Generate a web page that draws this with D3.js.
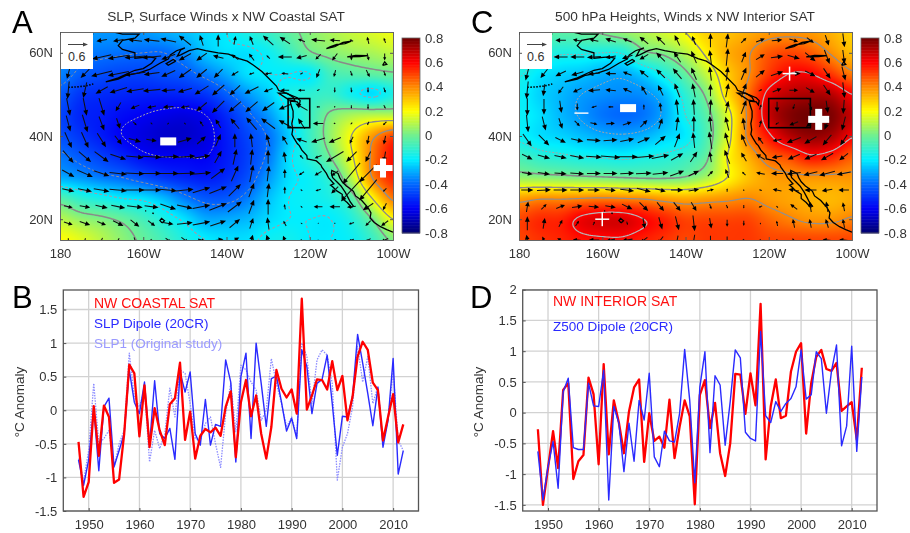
<!DOCTYPE html>
<html><head><meta charset="utf-8">
<script src="https://cdn.jsdelivr.net/npm/d3@7"></script>
<style>
html,body{margin:0;padding:0;background:#fff}
svg{display:block;filter:blur(.35px)}
text{font-family:"Liberation Sans",Arial,sans-serif;fill:#333}
</style></head><body>
<svg id="c" width="910" height="533"></svg>
<script>
const years = d3.range(1948, 2013);
const coastalSAT = [-.47,-1.29,-1.07,.06,-.68,.07,-.1,-1.08,-1.03,-.35,.68,.55,-.39,.37,-.55,.03,-.3,-.52,.09,.18,.71,-.44,-.02,-.72,-.38,-.28,-.33,-.26,-.38,.05,.28,-.7,.12,.45,-.09,.22,-.35,-.72,-.25,.6,.32,.19,.31,-.05,1.66,.01,.22,.46,.45,.31,.73,.3,.51,-.15,.2,.8,1.02,.9,.41,.3,-.45,-.1,.24,-.48,-.21];
const slpDipole = [-.74,-1.12,-.74,.03,-.9,.05,.18,-.84,-.6,-.35,.6,.12,-.05,.42,-.52,.44,-.35,-.42,-.27,-.73,.57,.27,.57,-.35,-.52,.16,-.52,-.21,-.24,.75,.42,-.77,.5,.85,-.42,1,.4,-.24,.47,.51,.12,-.31,-.12,-.42,.9,.65,-.05,.4,.46,.82,.1,-.67,-.09,-.1,.2,1.13,.7,.25,-.23,.34,-.55,-.15,.77,-.95,-.6];
const slp1 = [-.72,-1.05,-.6,.4,-.5,-.42,-.3,-.85,-.5,-.3,.85,.2,.05,.3,-.77,-.3,-.57,-.35,.33,-.1,.6,.55,.1,-.42,-.45,-.2,-.1,-.5,-.85,-.05,.4,-.32,.67,.6,.42,.3,-.15,0,.77,.4,.1,-.25,-.1,-.4,1,.8,.1,.75,.9,.82,.4,-1.04,-.55,-.35,.05,.95,.42,.8,.1,.35,-.47,-.15,.6,-.45,-.6];
const interiorSAT = [-.27,-1.5,-.9,-.3,-.9,.37,.48,-1.08,-.79,-.69,.57,.3,-.84,.79,-.68,.2,-.16,-.66,.02,.41,.54,-.8,-.01,-.46,-.39,-.57,.21,-.74,-.23,.2,-.06,-1.49,.29,.53,-.25,.16,-.66,-1.03,-.5,.63,.62,-.02,.64,.12,1.77,-.76,.1,.54,-.09,-.05,.67,.99,1.13,-.34,.48,.91,1.02,.71,.68,.81,.03,.1,.17,-.44,.73];
const z500Dipole = [-.63,-1.42,-.88,-.47,-1.23,.34,.56,-.57,-.6,-.6,.48,.11,.1,.69,-1.42,.1,-.17,-.96,-.17,-.79,.2,-.12,.64,-.72,-.88,-.3,-.46,-.48,-.01,1.03,.2,-1.14,.42,.99,-.65,.6,.45,-.53,.18,1.02,.89,-.32,-.42,-.46,1.32,-.05,-.16,.18,.02,.15,.23,.42,1.02,.22,.29,.99,.88,-.01,.67,1.1,-.54,-.22,1.08,-.63,.58];

const fieldLons = d3.range(180, 95, -5);
const fieldLats = d3.range(65, 10, -5);
const fieldA = [
[-.33,-.33,-.33,-.33,-.33,-.3,-.27,-.23,-.2,-.15,-.1,-.03,.03,.08,.12,.15,.18],
[-.35,-.37,-.38,-.39,-.4,-.4,-.35,-.26,-.22,-.22,-.18,-.1,-.01,.03,.06,.08,.11],
[-.36,-.42,-.45,-.47,-.47,-.45,-.43,-.37,-.3,-.22,-.2,-.2,-.2,-.08,-.05,-.03,-.01],
[-.43,-.5,-.52,-.53,-.54,-.54,-.53,-.5,-.42,-.33,-.25,-.16,-.12,-.1,-.17,-.22,-.15],
[-.47,-.53,-.55,-.58,-.6,-.62,-.63,-.6,-.52,-.42,-.33,-.2,-.1,.02,.08,.1,.1],
[-.45,-.5,-.55,-.6,-.63,-.66,-.66,-.63,-.55,-.47,-.39,-.25,-.1,.05,.2,.37,.5],
[-.38,-.43,-.48,-.53,-.58,-.6,-.6,-.6,-.55,-.48,-.38,-.22,-.12,0,.18,.42,.58],
[-.3,-.33,-.37,-.4,-.45,-.5,-.53,-.55,-.52,-.45,-.33,-.22,-.18,-.1,.1,.4,.55],
[-.05,-.12,-.16,-.2,-.22,-.28,-.37,-.43,-.43,-.37,-.27,-.2,-.18,-.15,-.05,.2,.42],
[.1,.05,.02,-.02,-.08,-.15,-.22,-.3,-.3,-.28,-.23,-.2,-.2,-.2,-.14,0,.2],
[.2,.16,.1,.04,-.02,-.08,-.15,-.2,-.22,-.22,-.18,-.17,-.2,-.2,-.18,-.1,.02]];
const fieldC = [
[-.04,-.04,-.04,-.02,.01,.05,.09,.14,.2,.28,.3,.34,.37,.38,.37,.33,.28],
[-.08,-.12,-.15,-.15,-.16,-.15,-.02,.02,.1,.22,.33,.39,.47,.5,.47,.39,.31],
[-.15,-.21,-.24,-.26,-.29,-.3,-.24,-.14,-.02,.12,.28,.39,.52,.6,.6,.52,.42],
[-.18,-.24,-.28,-.32,-.34,-.35,-.34,-.27,-.12,.02,.25,.43,.63,.7,.72,.7,.6],
[-.18,-.22,-.28,-.33,-.38,-.4,-.38,-.3,-.16,-.04,.15,.42,.67,.77,.8,.78,.68],
[-.18,-.22,-.24,-.27,-.3,-.31,-.29,-.24,-.2,-.06,.15,.42,.58,.7,.75,.72,.61],
[-.08,-.12,-.14,-.16,-.17,-.18,-.16,-.14,-.1,-.02,.2,.33,.45,.5,.58,.55,.47],
[.05,.04,.03,.02,.01,0,-.01,-.01,.01,.08,.2,.3,.36,.38,.38,.38,.38],
[.36,.39,.39,.4,.41,.4,.39,.36,.34,.36,.38,.4,.37,.35,.33,.32,.34],
[.5,.54,.55,.62,.65,.65,.6,.55,.5,.5,.5,.5,.45,.41,.38,.38,.41],
[.5,.53,.55,.58,.59,.59,.56,.53,.5,.52,.52,.52,.5,.5,.5,.5,.5]];

const windLons = d3.range(178, 100, -4);
const windLats = d3.range(63, 11, -4);
const windA = [
[[-30,0],[-30,0],[-30,-5],[-30,-5],[-40,5],[-45,5],[-45,10],[-35,28],[-10,30],[0,35],[5,25],[-10,25],[-30,28],[-30,20],[-20,8],[-40,4],[-30,2],[-10,5],[-5,20],[-5,15]],
[[-40,-5],[-40,-5],[-55,-12],[-60,-10],[-60,-5],[-55,-5],[-40,-15],[-35,-20],[-30,-22],[-30,8],[-20,15],[-15,20],[-10,10],[-40,0],[-30,-8],[-15,-15],[-15,-20],[0,-20],[5,-20],[0,-20]],
[[-8,-30],[-25,-25],[-60,-15],[-60,-12],[-60,-8],[-45,-6],[-40,-18],[-35,-25],[-30,-25],[-25,-25],[-20,-12],[-15,-5],[-20,-3],[-20,2],[-8,-5],[-10,-25],[-5,-20],[5,-15],[10,-20],[5,-15]],
[[-5,-50],[-10,-45],[-35,-20],[-50,-15],[-50,-8],[-50,-5],[-40,-3],[-40,-12],[-40,-25],[-35,-30],[-30,-28],[-40,-20],[-25,-10],[-25,0],[-20,0],[-8,-5],[0,-15],[2,-15],[0,-15],[5,-15]],
[[10,-50],[10,-50],[15,-50],[-15,-25],[-25,-10],[-25,-5],[-30,-2],[-25,-5],[-30,-25],[-35,-35],[-35,-30],[-35,-30],[-35,-25],[-35,-15],[-35,20],[-10,0],[0,-5],[0,-10],[0,-15],[5,-10]],
[[12,-45],[15,-50],[15,-40],[10,-30],[10,-10],[5,-5],[5,5],[-5,5],[-10,15],[-15,25],[-25,30],[-30,35],[-40,30],[-35,20],[-20,30],[-30,0],[5,-3],[-5,-5],[-5,-10],[-10,-10]],
[[20,-45],[20,-45],[25,-40],[20,-25],[35,-10],[30,-5],[40,2],[40,12],[25,22],[15,35],[0,40],[-5,40],[-10,35],[-15,25],[-30,10],[-40,-12],[-35,-15],[-10,-20],[-5,-25],[-5,-25]],
[[30,-35],[35,-30],[40,-30],[45,-15],[50,-5],[55,-3],[60,2],[60,4],[50,8],[20,35],[10,45],[5,45],[0,40],[-5,30],[-10,10],[-20,-8],[-50,-30],[-30,-30],[-15,-30],[-5,-30]],
[[35,-20],[45,-20],[45,-15],[50,-5],[55,-2],[55,0],[60,0],[60,2],[55,5],[40,30],[20,45],[10,50],[5,45],[0,25],[-15,-10],[-20,-12],[-20,-15],[-50,-60],[-50,-50],[-5,-20]],
[[35,-8],[40,-8],[45,-8],[50,-5],[55,0],[55,0],[50,-5],[50,5],[50,15],[50,20],[35,35],[15,40],[5,40],[0,20],[-5,5],[-15,-5],[-20,-20],[-60,-65],[-50,-60],[-10,-10]],
[[25,-5],[30,-5],[35,-8],[40,-8],[45,-5],[40,-5],[45,-15],[45,-10],[50,10],[50,20],[40,30],[15,40],[0,45],[-3,15],[-5,5],[-25,0],[-30,0],[-25,-3],[-30,-20],[-10,-20]],
[[25,-8],[30,-10],[25,-10],[30,-15],[25,-20],[20,-15],[30,-5],[45,5],[50,10],[45,15],[30,25],[10,30],[-5,35],[-8,15],[-5,3],[-3,0],[-3,-3],[-15,-5],[-15,-15],[-20,-15]],
[[0,-10],[-3,-10],[-5,-12],[-5,-10],[5,-15],[5,-5],[15,-10],[20,-15],[20,-5],[30,5],[25,15],[8,30],[-10,30],[-10,25],[-5,5],[0,3],[-8,-3],[-15,-5],[-15,-8],[-20,-8]]];
const windC = [
[[-30,0],[-30,0],[-30,0],[-25,5],[-25,5],[-30,10],[-25,10],[-25,20],[-25,25],[-15,30],[-10,25],[0,40],[5,40],[15,15],[25,10],[30,3],[25,-8],[20,-15],[10,-30],[5,-40]],
[[-30,-10],[-35,-5],[-40,0],[-40,0],[-40,-3],[-30,-5],[-30,-10],[-25,-15],[-25,25],[-20,30],[-15,35],[-5,40],[5,50],[12,30],[25,15],[35,5],[35,-10],[30,-25],[15,-40],[5,-40]],
[[-10,-40],[-20,-25],[-30,-15],[-35,-10],[-35,-3],[-30,0],[-25,10],[-25,20],[-25,25],[-25,30],[-15,35],[-5,40],[5,40],[15,35],[25,20],[35,12],[40,0],[30,-15],[20,-30],[10,-40]],
[[-5,-50],[-5,-35],[-15,-20],[-25,-12],[-35,-3],[-30,3],[-25,12],[-15,25],[-15,30],[-15,40],[-8,40],[0,35],[8,40],[15,40],[10,5],[25,10],[25,0],[25,-15],[20,-30],[5,-45]],
[[0,-50],[0,-45],[5,-35],[0,-20],[-15,-5],[-15,0],[-5,8],[0,15],[-3,25],[-5,45],[-3,45],[3,45],[8,35],[15,40],[5,15],[0,-30],[-5,-15],[10,-20],[5,-35],[-3,-40]],
[[5,-50],[10,-40],[10,-30],[15,-15],[20,-5],[25,2],[25,8],[20,20],[10,30],[5,40],[0,45],[-5,45],[-10,40],[-5,35],[5,20],[-10,-5],[-25,-10],[-25,-20],[-15,-35],[-10,-40]],
[[25,-35],[30,-30],[30,-15],[35,-8],[40,-3],[40,3],[40,8],[35,15],[30,25],[15,40],[-5,45],[-8,50],[-12,45],[-15,35],[-15,20],[-25,-5],[-40,-15],[-35,-20],[-25,-30],[-20,-30]],
[[30,-15],[35,-10],[35,-8],[40,-8],[45,-3],[55,-5],[60,0],[60,5],[50,10],[35,20],[20,30],[-5,30],[-15,40],[-15,25],[-25,15],[-30,-5],[-35,-15],[-35,-15],[-35,-20],[-25,-20]],
[[30,-5],[35,-5],[35,-3],[40,-3],[40,0],[40,0],[40,2],[45,2],[45,5],[40,15],[30,15],[15,15],[-10,25],[-10,10],[-25,5],[-35,0],[-40,-5],[-40,-10],[-45,-12],[-40,-8]],
[[35,0],[40,2],[40,0],[40,0],[35,0],[30,-3],[40,-5],[40,-10],[30,-8],[35,0],[30,5],[20,5],[0,10],[0,5],[-8,3],[-25,5],[-30,5],[-35,0],[-30,-5],[-30,0]],
[[5,30],[15,15],[25,10],[30,5],[30,-3],[30,-5],[30,-15],[25,-25],[20,-25],[20,-25],[15,-25],[5,-15],[5,-10],[0,-10],[-10,-5],[-5,5],[-20,15],[-5,30],[-5,30],[-5,25]],
[[0,40],[5,30],[10,20],[10,15],[5,10],[0,0],[3,-10],[5,-30],[10,-35],[10,-40],[5,-45],[5,-30],[0,-20],[0,-15],[0,5],[-3,15],[-5,25],[-5,25],[-8,25],[-5,25]],
[[-5,30],[-10,20],[-20,10],[-25,3],[-30,0],[-25,-5],[-30,-5],[-20,-15],[-15,-20],[-5,-25],[-5,-30],[0,-25],[0,-20],[5,-5],[-5,5],[-5,5],[-10,8],[-15,5],[-25,3],[-25,3]]];

const coastMain = [[100,16.9],[101.5,17.5],[103,18.2],[104.5,19.2],[105.5,20.3],[105.3,21.5],[106,22.8],[107.5,24.5],[109,25.6],[109.5,26.7],[110.5,27.5],[111.2,28],[112.2,29],[112.8,30],[113.2,31],[114.7,31.7],[114.8,31],[114.5,30],[113.5,29],[112.5,28],[111.5,26.5],[110.7,25],[110.3,24.2],[109.5,23.1],[110,22.9],[111,24],[112.2,25],[112.2,26],[113.5,26.8],[114.5,27.8],[115,28.2],[114.2,28.5],[115.5,30],[116,31],[117.1,32.5],[117.3,33],[118.4,34],[119.2,34.2],[120.6,34.5],[120.7,35.3],[121.9,36.6],[122.5,37.7],[123,38.2],[123.8,39.5],[124.3,40.4],[124.1,41.5],[124.3,43],[124,44.5],[124,46],[124.5,47.5],[124.7,48.4],[123,48.2],[122.5,47.5],[122.3,48.5],[123,49.2],[125,50],[127.5,51],[128,52],[130,54],[131.5,55.5],[133.5,57],[135,58],[137,58.6],[139.5,59.7],[142,60],[145,60.5],[147,61],[149,60.5],[151,59.5],[151.8,59.2],[151,60.7],[150,61.2],[152,60.5],[153.5,59.5],[154,58.5],[156,57.5],[158.5,56],[161,55.2],[164,54.6],[166,53.7],[169,53],[166,54],[162,55.8],[160,56.2],[158,57.5],[157,58.7],[158.5,59],[162,58.7],[162,60],[165,60.8],[166,61.7],[165,63],[162,63.5],[161,64.5],[165,64.5],[167,65]];
const coastIslands = [
[[123.5,48.4],[125,48.7],[127.5,50.3],[125.5,50.3],[124,49.3],[123.5,48.4]],
[[152.2,58],[154,57],[154.5,57.4],[152.8,58.4],[152.2,58]],
[[155.5,19.1],[154.9,19.6],[155.6,20.2],[156,19.7],[155.5,19.1]],
[[116,61],[114,61.5],[112,62.5],[110,62.8],[111.5,62.2],[113.5,62],[115,61.5],[116,61]],
[[111,59],[109,59.4],[106,59.3],[108,59.1],[111,59]],
[[102.5,57],[102,57.8],[101.5,57.2],[102.5,57]],
[[172,64.5],[174,64.8],[177,64.9]]];
const coastDots = [[[178,51.7],[176,51.8],[174,52],[172,52.5]],[[157.8,21.5],[157.2,21.2]],[[159.5,22],[159.3,22]]];

const boxA = {lons:[125.2,120], lats:[49,42]};
const boxC = {lons:[120,110], lats:[49,42]};
const marksA = [{t:"-",lon:154,lat:38.7,w:16,h:8},{t:"+",lon:102.4,lat:32.3,w:19,h:6}];
const marksC = [{t:"-",lon:153.8,lat:46.7,w:16,h:8},{t:"-",lon:165,lat:45.5,w:14,h:1.4},{t:"+",lon:115,lat:55,w:14,h:1.5},{t:"+",lon:108,lat:44,w:21,h:7},{t:"+",lon:160,lat:20,w:14,h:1.5}];

const cbTicks = [.8,.6,.4,.2,0,-.2,-.4,-.6,-.8];
const cbLabels = ["0.8","0.6","0.4","0.2","0","-0.2","-0.4","-0.6","-0.8"];
const lonTicks = [180,160,140,120,100];
const latTicks = [60,40,20];

const jet = d3.scaleLinear()
  .domain([-.8,-.6,-.4,-.2,0,.2,.4,.6,.8])
  .range(["#00006f","#0000f5","#0068ff","#00eeff","#70f090","#ffff00","#ff8800","#ff0000","#700000"])
  .clamp(true);

const svg = d3.select("#c");

function cr(p0,p1,p2,p3,t){return .5*((2*p1)+(-p0+p2)*t+(2*p0-5*p1+4*p2-p3)*t*t+(-p0+3*p1-3*p2+p3)*t*t*t);}
function sampler(g){
  const R=g.length,C=g[0].length;
  const at=(r,c)=>g[Math.max(0,Math.min(R-1,r))][Math.max(0,Math.min(C-1,c))];
  return (fc,fr)=>{
    fc=Math.max(0,Math.min(C-1,fc));fr=Math.max(0,Math.min(R-1,fr));
    const c=Math.min(C-2,Math.floor(fc)),r=Math.min(R-2,Math.floor(fr)),tc=fc-c,tr=fr-r;
    const v=[];
    for(let i=-1;i<3;i++) v.push(cr(at(r+i,c-1),at(r+i,c),at(r+i,c+1),at(r+i,c+2),tc));
    return cr(v[0],v[1],v[2],v[3],tr);
  };
}

function drawMap(o){
  const x=d3.scaleLinear().domain([180,100]).range([o.x0,o.x0+333]);
  const y=d3.scaleLinear().domain([65,15]).range([32,240]);
  const W=333,H=208;
  const colIdx=d3.scaleLinear().domain([fieldLons[0],fieldLons[fieldLons.length-1]]).range([0,fieldLons.length-1]);
  const rowIdx=d3.scaleLinear().domain([fieldLats[0],fieldLats[fieldLats.length-1]]).range([0,fieldLats.length-1]);
  const f=sampler(o.field);
  const cv=document.createElement("canvas");cv.width=W;cv.height=H;
  const ctx=cv.getContext("2d");const img=ctx.createImageData(W,H);
  for(let j=0;j<H;j++)for(let i=0;i<W;i++){
    const v=f(colIdx(x.invert(o.x0+i+.5)),rowIdx(y.invert(32+j+.5)));
    const c=d3.rgb(jet(v));const k=(j*W+i)*4;
    img.data[k]=c.r;img.data[k+1]=c.g;img.data[k+2]=c.b;img.data[k+3]=255;
  }
  ctx.putImageData(img,0,0);
  const g=svg.append("g");
  const clipId="clip"+o.name;
  svg.append("clipPath").attr("id",clipId).append("rect").attr("x",o.x0).attr("y",32).attr("width",W).attr("height",H);
  g.append("image").attr("x",o.x0).attr("y",32).attr("width",W).attr("height",H).attr("href",cv.toDataURL());
  const S=2,pad=3,gw=Math.ceil(W/S)+2*pad,gh=Math.ceil(H/S)+2*pad,vals=new Float64Array(gw*gh);
  for(let j=0;j<gh;j++)for(let i=0;i<gw;i++){
    vals[j*gw+i]=f(colIdx(x.invert(o.x0+(i-pad)*S)),rowIdx(y.invert(32+(j-pad)*S)));
  }
  const gen=d3.contours().size([gw,gh]).smooth(true);
  const proj=d3.geoIdentity().scale(S).translate([o.x0-pad*S-S/2,32-pad*S-S/2]);
  const gp=d3.geoPath(proj);
  const cg=g.append("g").attr("clip-path",`url(#${clipId})`).attr("fill","none");
  o.levels.forEach(l=>{
    cg.append("path").attr("d",gp(gen.contour(vals,l.v))).attr("stroke",l.c).attr("stroke-width",l.w)
      .attr("stroke-dasharray",l.d||null);
  });
  const line=d3.line().x(d=>x(d[0])).y(d=>y(d[1]));
  const cs=g.append("g").attr("clip-path",`url(#${clipId})`).attr("fill","none").attr("stroke","#000").attr("stroke-width",1.3);
  cs.append("path").attr("d",line(coastMain));
  coastIslands.forEach(p=>cs.append("path").attr("d",line(p)));
  coastDots.forEach(p=>cs.append("path").attr("d",line(p)).attr("stroke-dasharray","1.5 1.5").attr("stroke-width",1.6));
  const len=d3.scaleLinear().domain([0,.6]).range([0,21]);
  const wg=g.append("g").attr("clip-path",`url(#${clipId})`);
  let d="",h="";
  o.wind.forEach((row,r)=>row.forEach((w,c)=>{
    const dx=len(w[0]/100),dy=-len(w[1]/100),L=Math.hypot(dx,dy);
    if(L<.8)return;
    const cx=x(windLons[c]),cy=y(windLats[r]);
    const ux=dx/L,uy=dy/L,hl=Math.min(5.5,L*.45),hw=Math.min(2.4,L*.22);
    const x1=cx-dx/2,y1=cy-dy/2,x2=cx+dx/2,y2=cy+dy/2;
    d+=`M${x1},${y1}L${x2-ux*hl*.7},${y2-uy*hl*.7}`;
    h+=`M${x2},${y2}L${x2-ux*hl-uy*hw},${y2-uy*hl+ux*hw}L${x2-ux*hl+uy*hw},${y2-uy*hl-ux*hw}Z`;
  }));
  wg.append("path").attr("d",d).attr("stroke","#111").attr("stroke-width",1.05).attr("fill","none");
  wg.append("path").attr("d",h).attr("fill","#000");
  g.append("rect").attr("x",x(o.box.lons[0])).attr("y",y(o.box.lats[0]))
    .attr("width",x(o.box.lons[1])-x(o.box.lons[0])).attr("height",y(o.box.lats[1])-y(o.box.lats[0]))
    .attr("fill","none").attr("stroke","#000").attr("stroke-width",1.6);
  o.marks.forEach(m=>{
    const mx=x(m.lon),my=y(m.lat);
    g.append("rect").attr("x",mx-m.w/2).attr("y",my-m.h/2).attr("width",m.w).attr("height",m.h).attr("fill","#fff");
    if(m.t==="+")g.append("rect").attr("x",mx-m.h/2).attr("y",my-m.w/2).attr("width",m.h).attr("height",m.w).attr("fill","#fff");
  });
  g.append("rect").attr("x",o.x0).attr("y",32).attr("width",33).attr("height",37).attr("fill","#fff");
  const lx=o.x0+8,ll=20;
  g.append("path").attr("d",`M${lx},44.5H${lx+ll-3}`).attr("stroke","#444").attr("stroke-width",1);
  g.append("path").attr("d",`M${lx+ll},44.5l-5,-2v4z`).attr("fill","#444");
  g.append("text").attr("x",lx).attr("y",61).attr("font-size",12.5).text("0.6");
  const ax=d3.axisBottom(x).tickValues(lonTicks).tickSize(-3).tickPadding(9).tickFormat(d=>d===180?"180":d+"W");
  const ay=d3.axisLeft(y).tickValues(latTicks).tickSize(-3).tickPadding(7).tickFormat(d=>d+"N");
  const gx=g.append("g").attr("transform","translate(0,240)").call(ax);
  const gy=g.append("g").attr("transform",`translate(${o.x0},0)`).call(ay);
  const axT=d3.axisTop(x).tickValues(lonTicks).tickSize(-3).tickFormat("");
  const ayR=d3.axisRight(y).tickValues(latTicks).tickSize(-3).tickFormat("");
  const gt=g.append("g").attr("transform","translate(0,32)").call(axT);
  const gr=g.append("g").attr("transform",`translate(${o.x0+W},0)`).call(ayR);
  [gx,gy,gt,gr].forEach(a=>{a.selectAll(".domain").attr("stroke","#666").attr("stroke-width",1);a.selectAll(".tick line").attr("stroke","#555");a.selectAll("text").attr("font-size",13).attr("fill","#333").attr("font-family",'"Liberation Sans",Arial,sans-serif');});
  const cx=o.x0+342,cw=18;
  const cy=d3.scaleLinear().domain([.8,-.8]).range([38,233]);
  const cb=g.append("g");
  const bands=d3.range(.8,-.8,-.0125);
  cb.selectAll("rect").data(bands).join("rect").attr("x",cx).attr("width",cw)
    .attr("y",d=>cy(d)).attr("height",d=>cy(d-.0125)-cy(d)+.5).attr("fill",d=>jet(d-.00625));
  g.append("rect").attr("x",cx).attr("y",38).attr("width",cw).attr("height",195).attr("fill","none").attr("stroke","#666").attr("stroke-width",.8);
  g.selectAll(null).data(cbTicks).join("text").attr("x",cx+23).attr("y",d=>cy(d)+4.5).attr("font-size",13.2).text((d,i)=>cbLabels[i]);
  g.append("text").attr("x",o.titleX).attr("y",21).attr("text-anchor","middle").attr("font-size",13.7).text(o.title);
  g.append("text").attr("x",o.labelX).attr("y",33).attr("font-size",31).style("fill","#000").text(o.name);
}

drawMap({name:"A",x0:60,field:fieldA,wind:windA,box:boxA,marks:marksA,title:"SLP, Surface Winds x NW Coastal SAT",titleX:226,labelX:12,
  levels:[{v:-.6,c:"#b8b8a0",w:.9,d:"2 1.5"},{v:-.4,c:"#8a8fa0",w:1,d:"3 2"},{v:-.2,c:"#a59aa5",w:1.1,d:"3 2"},{v:0,c:"#8a8a8a",w:1.5},{v:.2,c:"#8a8a8a",w:1.3},{v:.4,c:"#8f8f8f",w:1.3}]});
drawMap({name:"C",x0:519,field:fieldC,wind:windC,box:boxC,marks:marksC,title:"500 hPa Heights, Winds x NW Interior SAT",titleX:685,labelX:471,
  levels:[{v:-.32,c:"#a5a5a5",w:1,d:"2 1.5"},{v:-.16,c:"#a5a5a5",w:1,d:"2 1.5"},{v:0,c:"#8a8a8a",w:1.6},{v:.2,c:"#8a8a8a",w:1.4},{v:.4,c:"#909090",w:1.2},{v:.6,c:"#b5b5b5",w:1.2}]});

function drawLines(o){
  const x=d3.scaleLinear().domain([1945,2015]).range(o.xr);
  const y=d3.scaleLinear().domain(o.yd).range([o.yr0,511]);
  const g=svg.append("g");
  g.append("g").selectAll("line").data(d3.range(1950,2011,10)).join("line")
    .attr("x1",x).attr("x2",x).attr("y1",290).attr("y2",511).attr("stroke","#d2d2d2").attr("stroke-width",1.3);
  g.append("g").selectAll("line").data(o.yt).join("line")
    .attr("y1",y).attr("y2",y).attr("x1",o.xr[0]).attr("x2",o.xr[1]).attr("stroke","#d2d2d2").attr("stroke-width",1.3);
  const ln=d3.line().x((d,i)=>x(years[i])).y(d=>y(d));
  o.series.forEach(s=>g.append("path").attr("d",ln(s.v)).attr("fill","none").attr("stroke",s.c).attr("stroke-width",s.w).attr("stroke-dasharray",s.d||null).attr("stroke-linejoin","round"));
  g.append("rect").attr("x",o.xr[0]).attr("y",290).attr("width",o.xr[1]-o.xr[0]).attr("height",221).attr("fill","none").attr("stroke","#555").attr("stroke-width",1.3);
  const ax=d3.axisBottom(x).tickValues(d3.range(1950,2011,10)).tickFormat(d3.format("d")).tickSize(-3).tickPadding(9);
  const ay=d3.axisLeft(y).tickValues(o.yt).tickFormat(d=>String(d)).tickSize(-3).tickPadding(6);
  const gx=g.append("g").attr("transform","translate(0,511)").call(ax);
  const gy=g.append("g").attr("transform",`translate(${o.xr[0]},0)`).call(ay);
  [gx,gy].forEach(a=>{a.select(".domain").remove();a.selectAll(".tick line").attr("stroke","#555");a.selectAll("text").attr("font-size",13).attr("fill","#333").attr("font-family",'"Liberation Sans",Arial,sans-serif');});
  g.append("text").attr("transform",`translate(${o.ylx},${o.yly}) rotate(-90)`).attr("text-anchor","middle").attr("font-size",13.5).text("°C Anomaly");
  o.legend.forEach(l=>g.append("text").attr("x",l.x).attr("y",l.y).attr("font-size",l.s).style("fill",l.c).text(l.t));
  g.append("text").attr("x",o.labelX).attr("y",308).attr("font-size",31).style("fill","#000").text(o.name);
}

drawLines({name:"B",xr:[63.3,418.5],yd:[1.5,-1.5],yr0:309.5,yt:[1.5,1,.5,0,-.5,-1,-1.5],labelX:12,ylx:24,yly:402,
  series:[{v:slp1,c:"#8c8cff",w:1.3,d:"1.5 1.2"},{v:slpDipole,c:"#2a2aff",w:1.4},{v:coastalSAT,c:"#ff0000",w:2.3}],
  legend:[{t:"NW COASTAL SAT",x:94,y:308,s:14,c:"#ff1010"},{t:"SLP Dipole (20CR)",x:94,y:328,s:13.5,c:"#2a2aff"},{t:"SLP1 (Original study)",x:94,y:348,s:13.5,c:"#9a9aff"}]});
drawLines({name:"D",xr:[522.7,877],yd:[2,-1.6],yr0:289.7,yt:[2,1.5,1,.5,0,-.5,-1,-1.5],labelX:470,ylx:483,yly:402,
  series:[{v:interiorSAT,c:"#ff0000",w:2.3},{v:z500Dipole,c:"#2a2aff",w:1.4}],
  legend:[{t:"NW INTERIOR SAT",x:553,y:306,s:14,c:"#ff1010"},{t:"Z500 Dipole (20CR)",x:553,y:331,s:13.5,c:"#2a2aff"}]});
</script>
</body></html>
